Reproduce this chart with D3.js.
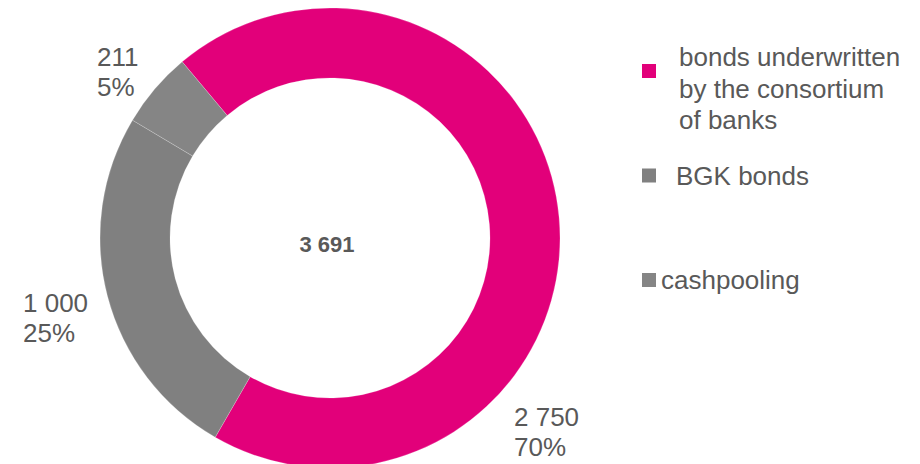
<!DOCTYPE html>
<html>
<head>
<meta charset="utf-8">
<script src="https://cdn.jsdelivr.net/npm/d3@7"></script>
<style>
  body { margin: 0; background: #fff; }
  svg { display: block; font-family: "Liberation Sans", Arial, sans-serif; }
</style>
</head>
<body>
<div id="chart"></div>
<script>
// --- DATOS ---
const categories = ["bonds underwritten by the consortium of banks", "BGK bonds", "cashpooling"];
const legendLines = [["bonds underwritten", "by the consortium", "of banks"], ["BGK bonds"], ["cashpooling"]];
const amounts = [2750, 1000, 211];
const amountLabels = ["2 750", "1 000", "211"];
const percentLabels = ["70%", "25%", "5%"];
const totalLabel = "3 691";
const colors = ["#e2007a", "#808080", "#858585"];

// --- CONFIGURACION ---
const width = 920, height = 464;
const cx = 330, cy = 238;
const outerR = 230, innerR = 160;
const textColor = "#595959";

// posicion manual de las etiquetas (como en el original), relativo al centro
const labelOffset = [[184, 188], [-307, 74], [-233, -172]];
const legendTextX = [679, 676, 661];

const svg = d3.select("#chart").append("svg")
    .attr("width", width)
    .attr("height", height);

const g = svg.append("g").attr("transform", `translate(${cx},${cy})`);

const start = -40 * Math.PI / 180;
const pie = d3.pie().sort(null).value(d => d)
    .startAngle(start).endAngle(start + 2 * Math.PI);
const arcs = pie(amounts);

const arc = d3.arc().innerRadius(innerR).outerRadius(outerR);

// El anillo
g.selectAll(".slice")
    .data(arcs)
    .enter()
    .append("path")
    .attr("class", "slice")
    .attr("d", arc)
    .attr("fill", (d, i) => colors[i])
    .attr("stroke", "#fff")
    .attr("stroke-width", 0.4)
    .attr("stroke-opacity", 0.5);

// Total en el centro
g.append("text")
    .attr("x", -3)
    .attr("y", 14)
    .attr("text-anchor", "middle")
    .attr("font-size", 22)
    .attr("font-weight", "bold")
    .attr("fill", textColor)
    .text(totalLabel);

// Etiquetas de valor y porcentaje
const labels = g.selectAll(".slice-label")
    .data(arcs)
    .enter()
    .append("text")
    .attr("class", "slice-label")
    .attr("font-size", 26)
    .attr("fill", textColor)
    .attr("transform", (d, i) => `translate(${labelOffset[i][0]},${labelOffset[i][1]})`);

labels.append("tspan")
    .attr("x", 0)
    .attr("y", 0)
    .text((d, i) => amountLabels[i]);
labels.append("tspan")
    .attr("x", 0)
    .attr("dy", 30)
    .text((d, i) => percentLabels[i]);

// --- LEYENDA ---
const ly = d3.scalePoint()
    .domain(categories)
    .range([71, 280]);

const legend = svg.selectAll(".legend")
    .data(categories)
    .enter()
    .append("g")
    .attr("class", "legend");

legend.append("rect")
    .attr("x", 642)
    .attr("y", d => ly(d) - 7)
    .attr("width", 14)
    .attr("height", 14)
    .attr("fill", (d, i) => colors[i]);

legend.append("text")
    .attr("font-size", 26)
    .attr("fill", textColor)
    .each(function(d, i) {
        const t = d3.select(this);
        const lines = legendLines[i];
        const firstBase = lines.length > 1 ? ly(d) - 5 : ly(d) + 9;
        lines.forEach((line, j) => {
            t.append("tspan")
                .attr("x", legendTextX[i])
                .attr("y", firstBase + j * 31.7)
                .text(line);
        });
    });
</script>
</body>
</html>
